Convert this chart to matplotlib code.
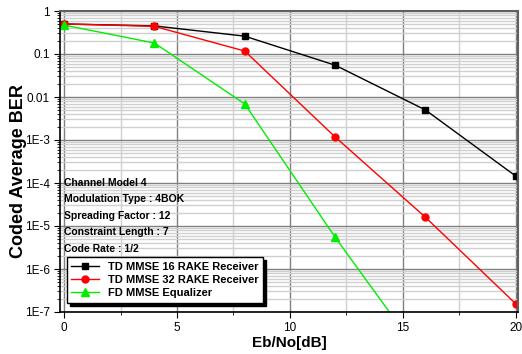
import matplotlib
matplotlib.use("Agg")
import matplotlib.pyplot as plt
import matplotlib.ticker as mtick

plt.rcParams["font.family"] = ["Liberation Sans", "DejaVu Sans"]

ebno = [0, 4, 8, 12, 16, 20]
ber_td16 = [0.50, 0.45, 0.26, 0.055, 0.005, 1.45e-4]
ber_td32 = [0.50, 0.44, 0.117, 1.18e-3, 1.6e-5, 1.55e-7]
ebno_fd = [0, 4, 8, 12, 16]
ber_fd = [0.47, 0.18, 0.0069, 5.5e-6, 7e-9]

yticks = [1, 0.1, 0.01, 1e-3, 1e-4, 1e-5, 1e-6, 1e-7]
ytick_labels = ["1", "0.1", "0.01", "1E-3", "1E-4", "1E-5", "1E-6", "1E-7"]

notes = ["Channel Model 4", "Modulation Type : 4BOK", "Spreading Factor : 12",
         "Constraint Length : 7", "Code Rate : 1/2"]

fig = plt.figure(figsize=(5.22, 3.54), dpi=100)
ax = fig.add_axes([60 / 522, 42 / 354, 458 / 522, 301 / 354])

ax.plot(ebno, ber_td16, color="black", lw=1, marker="s", ms=4.5, label="TD MMSE 16 RAKE Receiver")
ax.plot(ebno, ber_td32, color="red", lw=1, marker="o", ms=5, label="TD MMSE 32 RAKE Receiver")
ax.plot(ebno_fd, ber_fd, color="#00ee00", lw=1, marker="^", ms=5.5, label="FD MMSE Equalizer")

ax.set_yscale("log")
ax.set_ylim(1e-7, 1)
ax.set_xlim(-0.18, 20.1)
ax.set_xticks([0, 5, 10, 15, 20])
ax.xaxis.set_minor_locator(mtick.MultipleLocator(2.5))
ax.set_yticks(yticks)
ax.set_yticklabels(ytick_labels)
ax.yaxis.set_minor_locator(mtick.LogLocator(base=10, subs=range(2, 10), numticks=10))
ax.yaxis.set_minor_formatter(mtick.NullFormatter())

ax.grid(which="major", color="#808080", lw=1)
ax.grid(which="minor", color="#d0d0d0", lw=1)
ax.set_axisbelow(True)

for s in ["top", "right"]:
    ax.spines[s].set_color("#606060")
    ax.spines[s].set_linewidth(1.5)
for s in ["left", "bottom"]:
    ax.spines[s].set_linewidth(1.2)

ax.tick_params(which="major", direction="out", length=4, labelsize=8.5)
ax.tick_params(which="minor", direction="out", length=2)

ax.set_xlabel("Eb/No[dB]", fontsize=11, fontweight="bold", labelpad=1)
ax.set_ylabel("Coded Average BER", fontsize=13, fontweight="bold")
ax.yaxis.set_label_coords(-0.073, 0.468)

ys = [0.429, 0.375, 0.319, 0.266, 0.209]
for t, y in zip(notes, ys):
    ax.text(0.009, y, t, transform=ax.transAxes, fontsize=7.5, fontweight="bold",
            va="center", ha="left")

leg = ax.legend(loc="lower left", bbox_to_anchor=(0.003, 0.012), fancybox=False,
                shadow={"color": "black", "alpha": 1}, edgecolor="black",
                prop={"size": 8, "weight": "bold"}, borderpad=0.4,
                labelspacing=0.3, handlelength=2.5, framealpha=1)
leg.get_frame().set_linewidth(1)

fig.savefig("out.png", dpi=100)
